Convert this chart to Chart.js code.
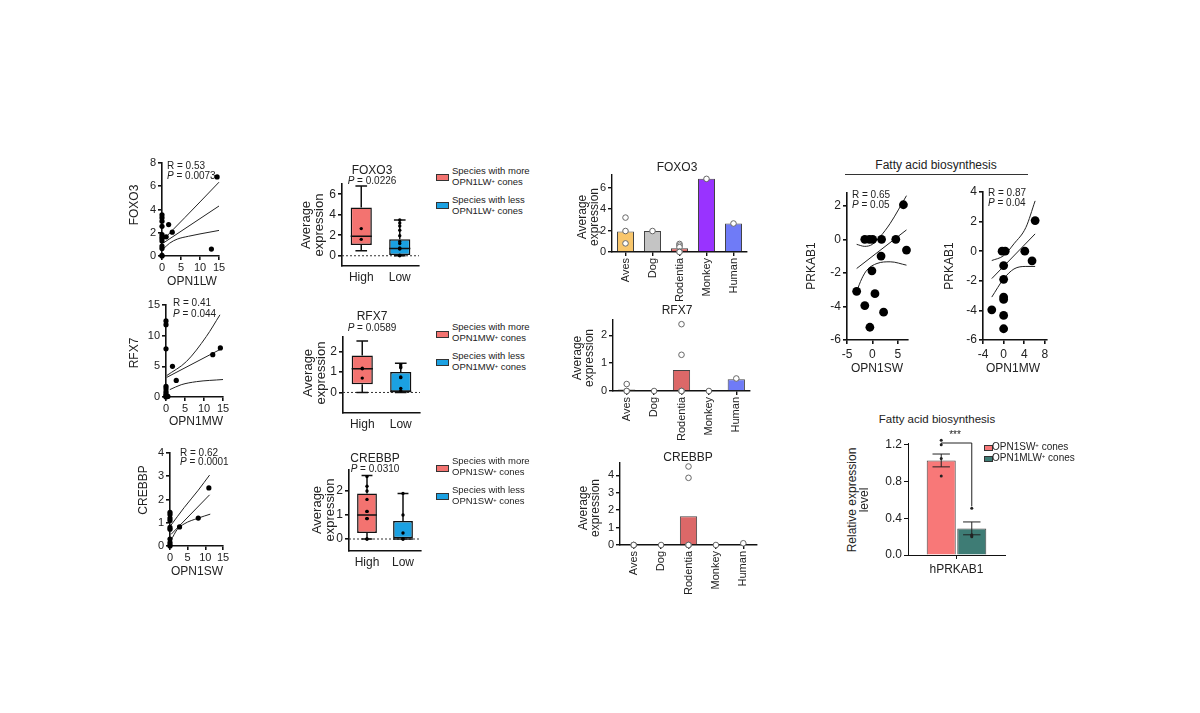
<!DOCTYPE html>
<html>
<head>
<meta charset="utf-8">
<title>Expression panels</title>
<script src="https://cdn.jsdelivr.net/npm/chart.js@4.4.1/dist/chart.umd.min.js"></script>
<style>
  body { margin: 0; background: #fff; }
  #page { position: relative; width: 1200px; height: 713px; overflow: hidden; background: #fff;
          font-family: Arial, "Liberation Sans", sans-serif; color: #222; }
  #page canvas { position: absolute; }
  .t { position: absolute; white-space: nowrap; line-height: 1; }
  .sw { position: absolute; border: 1px solid #333; box-sizing: border-box; }
  sup { font-size: 60%; vertical-align: 0.45em; line-height: 0; }
</style>
</head>
<body>
<div id="page"></div>
<script>
// ---- left column: correlation scatters ----
const lwX = [0, 0, 0, 0, 0, 0, 0, 0, 0, 0, 0, 0, 1.1, 1.75, 2.7, 13, 14.5];
const lwY = [3.55, 3.3, 3.0, 2.55, 1.85, 1.65, 1.5, 1.3, 0.85, 0.65, 0.05, 0, 1.65, 2.7, 2.05, 0.6, 6.8];
const lwFitX = [0.5, 15], lwFitY = [1.15, 4.3];
const lwUpX = [0.5, 3, 6, 10, 15], lwUpY = [1.45, 2.3, 3.3, 4.65, 6.35];
const lwLoX = [0.3, 2, 4, 7, 10, 15], lwLoY = [0.6, 1.1, 1.45, 1.7, 1.9, 2.2];

const mwX = [0, 0, 0, 0, 0, 0, 0, 0, 0, 0, 0.5, 1.7, 2.7, 12.3, 14.3];
const mwY = [12.4, 11.8, 7.85, 1.75, 1.35, 0.9, 0.55, 0.3, 0.1, 0, 0.1, 5.0, 2.7, 6.9, 8.0];
const mwFitX = [0.2, 15], mwFitY = [3.2, 8.0];
const mwUpX = [0.2, 5.4, 10.6, 14.2], mwUpY = [3.5, 5.8, 9.85, 13.4];
const mwLoX = [1, 4, 8, 15], mwLoY = [1.2, 2.0, 2.5, 2.85];

const swX = [0, 0, 0, 0, 0, 0, 0, 0, 0, 0, 2.7, 8, 11];
const swY = [1.45, 1.35, 1.2, 1.1, 0.8, 0.72, 0.3, 0.15, 0.05, 0, 0.82, 1.2, 2.5];
const swFitX = [0.3, 11.2], swFitY = [0.5, 2.2];
const swUpX = [0.3, 4, 8, 11.2], swUpY = [0.9, 1.65, 2.4, 3.05];
const swLoX = [0.3, 2, 4, 8, 11.4], swLoY = [0.25, 0.7, 0.95, 1.2, 1.37];

// ---- second column: box plots ----
const groups = ['High', 'Low'];
const foxLo = [1.05, 0], foxHi = [4.7, 1.6], foxMed = [1.9, 0.7], foxWLo = [0.5, 0], foxWHi = [6.8, 3.5];
const foxHighPts = [2.65, 1.6];
const foxLowPts = [3.5, 3.2, 2.9, 2.5, 1.95, 1.4, 1.2, 0.75, 0.7, 0.65, 0.05, 0];

const rfxLo = [0.4, 0], rfxHi = [1.8, 1.0], rfxMed = [1.15, 0.05], rfxWLo = [0, 0], rfxWHi = [2.5, 1.42];
const rfxHighPts = [1.18, 1.15, 0.7];
const rfxLowPts = [1.35, 1.25, 1.2, 0.75, 0.72, 0.2, 0.08];

const creLo = [0.25, 0], creHi = [1.9, 0.75], creMed = [1.0, 0], creWLo = [0, 0], creWHi = [2.65, 1.9];
const creHighPts = [2.6, 2.2, 2.0, 1.65, 1.15, 1.15, 0.85, 0.85, 0.85, 0, 0];
const creLowPts = [1.9, 1.0, 0.25, 0, 0];

// ---- third column: species bars ----
const species = ['Aves', 'Dog', 'Rodentia', 'Monkey', 'Human'];
const speciesColors = ['#f8c66c', '#c4c4c4', '#dc6868', '#9933ff', '#6f7bf7'];
const foxMean = [1.9, 1.95, 0.35, 6.8, 2.65];
const foxPts = [[3.2, 1.95, 0.8], [1.95], [0.75, 0.6, 0.45, 0.05, 0], [6.8], [2.65]];
const rfxMean = [0.05, 0, 0.75, 0, 0.42];
const rfxPts = [[0.25, 0, 0], [0], [2.4, 1.3, 0, 0, 0], [0], [0.45]];
const creMean = [0, 0, 1.65, 0, 0.04];
const crePts = [[0, 0, 0], [0], [4.5, 3.85, 0, 0, 0], [0], [0.1]];

// ---- right column: PRKAB1 ----
const pSwX = [-3.1, -1.5, -1.5, -0.6, 0.05, 1.8, 1.7, -0.1, 0.5, -0.5, 2.2, 4.6, 6.1, 6.7];
const pSwY = [-3.1, -3.95, 0, 0, 0, 0, -1.0, -1.88, -3.24, -5.24, -4.34, 0, 2.06, -0.64];
const pSwFitX = [-3.1, 6.7], pSwFitY = [-1.74, 0.56];
const pSwUpX = [-3.1, -1.5, 0, 1.5, 3.5, 6.7], pSwUpY = [-0.3, -0.42, -0.3, 0.15, 0.95, 2.6];
const pSwLoX = [-3.1, -2.1, -1.1, 0.9, 3.5, 6.7], pSwLoY = [-3.1, -2.35, -1.84, -1.44, -1.34, -1.54];

const pMwX = [-2.3, -0.3, 0.3, 0, 0, 0, 0, 0, 0, 4.1, 5.5, 6.1];
const pMwY = [-3.96, 0, 0, -0.97, -1.9, -3.1, -3.26, -4.34, -5.24, 0, -0.65, 2.07];
const pMwFitX = [-2.3, 6.1], pMwFitY = [-1.85, 1.17];
const pMwUpX = [-2.3, 0, 2, 4.3, 6.1], pMwUpY = [-0.63, -0.3, 0.5, 1.6, 3.4];
const pMwLoX = [-2.3, 0, 2, 4.3, 6.1], pMwLoY = [-3.1, -1.87, -1.2, -1.03, -1.03];

const eMean = [1.03, 0.29], eErr = [0.07, 0.07];
const eSwPts = [1.25, 1.2, 1.05, 0.86], eMlwPts = [0.51, 0.22, 0.21, 0.2];
const eBracket = [1.22, 1.19, 0.53];

Chart.defaults.font.family = 'Arial, "Liberation Sans", sans-serif';
Chart.defaults.color = '#222';
Chart.defaults.animation = false;
Chart.defaults.plugins.legend.display = false;
Chart.defaults.plugins.tooltip.enabled = false;

const page = document.getElementById('page');
const PAD = {left: 4, top: 12, right: 16, bottom: 4};

// put a chart so that its plot area lands on l,t,r,b
function place(l, t, r, b, yW, xH, config) {
  const c = document.createElement('canvas');
  const w = Math.round(r - l + yW + PAD.left + PAD.right);
  const h = Math.round(b - t + xH + PAD.top + PAD.bottom);
  c.width = w; c.height = h;
  c.style.width = w + 'px'; c.style.height = h + 'px';
  c.style.left = (l - yW - PAD.left) + 'px';
  c.style.top = (t - PAD.top) + 'px';
  page.appendChild(c);
  const o = config.options;
  o.responsive = false;
  o.maintainAspectRatio = false;
  o.layout = {padding: PAD};
  o.scales.x.afterFit = s => { s.height = xH; };
  o.scales.y.afterFit = s => { s.width = yW; };
  return new Chart(c, config);
}

function txt(html, x, y, size, opt) {
  opt = opt || {};
  const el = document.createElement('div');
  el.className = 't';
  el.innerHTML = html;
  el.style.fontSize = size + 'px';
  el.style.left = x + 'px';
  el.style.top = y + 'px';
  let tf = opt.left ? 'translate(0,-50%)' : 'translate(-50%,-50%)';
  if (opt.rot) tf += ' rotate(-90deg)';
  el.style.transform = tf;
  page.appendChild(el);
}

function swatch(x, y, w, h, color) {
  const el = document.createElement('div');
  el.className = 'sw';
  Object.assign(el.style, {left: x + 'px', top: y + 'px', width: w + 'px', height: h + 'px', background: color});
  page.appendChild(el);
}

function linAxis(min, max, ticks, size, opt) {
  opt = opt || {};
  const bw = opt.bw || 1.6;
  return {
    type: 'linear', min, max,
    afterBuildTicks: s => { s.ticks = ticks.map(v => ({value: v})); },
    border: {display: true, color: '#111', width: bw},
    grid: {drawOnChartArea: false, drawTicks: true, tickLength: 4, color: '#111', lineWidth: bw},
    ticks: {color: '#222', font: {size}, padding: opt.pad || 2, autoSkip: false,
            minRotation: 0, maxRotation: 0, callback: opt.fmt || (v => String(v))}
  };
}

function catAxis(size, opt) {
  opt = opt || {};
  const bw = opt.bw || 1.6;
  return {
    type: 'category', offset: true,
    border: {display: true, color: '#111', width: bw},
    grid: {drawOnChartArea: false, drawTicks: opt.ticks !== false, tickLength: 4, color: '#111', lineWidth: bw, offset: false},
    ticks: {color: '#222', font: {size}, padding: opt.pad || 2, autoSkip: false,
            minRotation: opt.rot || 0, maxRotation: opt.rot || 0}
  };
}

const pairs = (xs, ys) => xs.map((x, i) => ({x, y: ys[i]}));

function scatterPanel(area, yW, xH, xAx, yAx, px, py, curves, r) {
  const datasets = curves.map(([xs, ys]) => ({
    data: pairs(xs, ys), showLine: true, pointRadius: 0, borderColor: '#222', borderWidth: 1,
    cubicInterpolationMode: 'monotone', clip: false, order: 2
  }));
  datasets.push({data: pairs(px, py), pointRadius: r, pointBackgroundColor: '#000',
                 pointBorderWidth: 0, clip: false, order: 1});
  return place(area[0], area[1], area[2], area[3], yW, xH,
    {type: 'scatter', data: {datasets}, options: {scales: {x: xAx, y: yAx}}});
}

function boxPanel(area, yAx, lo, hi, med, wlo, whi, highPts, lowPts) {
  const pts = highPts.map(v => ({x: 'High', y: v})).concat(lowPts.map(v => ({x: 'Low', y: v})));
  const whisk = {
    id: 'whisk',
    beforeDatasetsDraw(chart) {
      const {ctx, chartArea, scales: {y}} = chart;
      const y0 = y.getPixelForValue(0);
      ctx.save();
      ctx.setLineDash([2, 2]); ctx.strokeStyle = '#333'; ctx.lineWidth = 1;
      ctx.beginPath(); ctx.moveTo(chartArea.left, y0); ctx.lineTo(chartArea.right, y0); ctx.stroke();
      ctx.restore();
    },
    afterDatasetDraw(chart, args) {
      if (args.index !== 0) return;
      const {ctx, scales: {y}} = chart;
      ctx.save();
      ctx.strokeStyle = '#111'; ctx.lineWidth = 1.5;
      chart.getDatasetMeta(0).data.forEach((bar, i) => {
        const cx = bar.x, hw = bar.width / 2, cap = hw * 0.55;
        const pLo = y.getPixelForValue(wlo[i]), pHi = y.getPixelForValue(whi[i]);
        ctx.beginPath();
        ctx.moveTo(cx, pLo); ctx.lineTo(cx, y.getPixelForValue(lo[i]));
        ctx.moveTo(cx, y.getPixelForValue(hi[i])); ctx.lineTo(cx, pHi);
        ctx.moveTo(cx - cap, pLo); ctx.lineTo(cx + cap, pLo);
        ctx.moveTo(cx - cap, pHi); ctx.lineTo(cx + cap, pHi);
        const pm = y.getPixelForValue(med[i]);
        ctx.moveTo(cx - hw, pm); ctx.lineTo(cx + hw, pm);
        ctx.stroke();
      });
      ctx.restore();
    }
  };
  return place(area[0], area[1], area[2], area[3], 22, 18, {
    type: 'bar',
    data: {labels: groups, datasets: [
      {data: lo.map((v, i) => [v, hi[i]]), backgroundColor: ['#f37370', '#1ba1e2'], borderColor: '#111',
       borderWidth: 1.5, borderSkipped: false, barPercentage: 0.55, categoryPercentage: 1, order: 2},
      {type: 'line', data: pts, showLine: false, pointRadius: 1.7, pointBackgroundColor: '#000',
       pointBorderWidth: 0, clip: false, order: 1}
    ]},
    options: {scales: {x: catAxis(12, {ticks: false, pad: 4}), y: yAx}},
    plugins: [whisk]
  });
}

function speciesPanel(area, yAx, means, pts) {
  const dots = [];
  pts.forEach((arr, i) => arr.forEach(v => dots.push({x: species[i], y: v})));
  return place(area[0], area[1], area[2], area[3], 20, 50, {
    type: 'bar',
    data: {labels: species, datasets: [
      {data: means, backgroundColor: speciesColors, borderColor: '#444', borderWidth: 1,
       barPercentage: 0.63, categoryPercentage: 1, order: 2},
      {type: 'line', data: dots, showLine: false, pointRadius: 2.8, pointBackgroundColor: '#fff',
       pointBorderColor: '#666', pointBorderWidth: 1, clip: false, order: 1}
    ]},
    options: {scales: {x: catAxis(11, {rot: 90, bw: 1.4}), y: yAx}}
  });
}

// ---- column 1 ----
scatterPanel([162.3, 163.3, 219.3, 256.7], 22, 16,
  linAxis(0, 15, [0, 5, 10, 15], 11, {pad: 1}), linAxis(0, 8, [0, 2, 4, 6, 8], 11),
  lwX, lwY, [[lwFitX, lwFitY], [lwUpX, lwUpY], [lwLoX, lwLoY]], 2.6);
scatterPanel([166, 305, 223.3, 397.3], 22, 16,
  linAxis(0, 15, [0, 5, 10, 15], 11, {pad: 1}), linAxis(0, 15, [0, 5, 10, 15], 11),
  mwX, mwY, [[mwFitX, mwFitY], [mwUpX, mwUpY], [mwLoX, mwLoY]], 2.6);
scatterPanel([170, 452.7, 223, 546], 22, 16,
  linAxis(0, 15, [0, 5, 10, 15], 11, {pad: 1}), linAxis(0, 4, [0, 1, 2, 3, 4], 11),
  swX, swY, [[swFitX, swFitY], [swUpX, swUpY], [swLoX, swLoY]], 2.6);

txt('FOXO3', 134, 205, 12, {rot: true});
txt('R = 0.53', 167, 166, 10, {left: true});
txt('<i>P</i> = 0.0073', 167, 176, 10, {left: true});
txt('OPN1LW', 192, 281, 12);
txt('RFX7', 134, 353, 12, {rot: true});
txt('R = 0.41', 173, 303, 10, {left: true});
txt('<i>P</i> = 0.044', 173, 314, 10, {left: true});
txt('OPN1MW', 196, 421, 12);
txt('CREBBP', 143, 490, 12, {rot: true});
txt('R = 0.62', 180, 453, 10, {left: true});
txt('<i>P</i> = 0.0001', 180, 462, 10, {left: true});
txt('OPN1SW', 197, 571, 12);

// ---- column 2 ----
boxPanel([341.7, 184.3, 418.3, 266.7], linAxis(-1, 7, [0, 2, 4, 6], 12),
  foxLo, foxHi, foxMed, foxWLo, foxWHi, foxHighPts, foxLowPts);
boxPanel([343.3, 337, 420, 413], linAxis(-1, 2.7, [0, 1, 2], 12),
  rfxLo, rfxHi, rfxMed, rfxWLo, rfxWHi, rfxHighPts, rfxLowPts);
boxPanel([349.3, 470, 421, 551], linAxis(-0.5, 2.875, [0, 1, 2], 12),
  creLo, creHi, creMed, creWLo, creWHi, creHighPts, creLowPts);

txt('FOXO3', 372, 170, 12);
txt('<i>P</i> = 0.0226', 372, 181, 10);
txt('Average', 305, 225, 13, {rot: true});
txt('expression', 318, 225, 13, {rot: true});
txt('RFX7', 372, 316, 12);
txt('<i>P</i> = 0.0589', 372, 328, 10);
txt('Average', 307, 373, 13, {rot: true});
txt('expression', 320, 373, 13, {rot: true});
txt('CREBBP', 375, 457.7, 12);
txt('<i>P</i> = 0.0310', 375, 469, 10);
txt('Average', 316, 510, 13, {rot: true});
txt('expression', 329, 510, 13, {rot: true});

const legendRows = [
  [173.5, 171, 'LW'], [331, 327, 'MW'], [465, 461, 'SW']
];
legendRows.forEach(([sy, ty, kind]) => {
  swatch(436, sy, 13, 7, '#f37370');
  txt('Species with more', 452, ty, 9.5, {left: true});
  txt('OPN1' + kind + '<sup>+</sup> cones', 452, ty + 11, 9.5, {left: true});
  swatch(436, sy + 28, 13, 7, '#1ba1e2');
  txt('Species with less', 452, ty + 29, 9.5, {left: true});
  txt('OPN1' + kind + '<sup>+</sup> cones', 452, ty + 40, 9.5, {left: true});
});

// ---- column 3 ----
speciesPanel([611.7, 175, 746.7, 252.3], linAxis(0, 7.16, [0, 2, 4, 6], 11, {bw: 1.4}), foxMean, foxPts);
speciesPanel([613.3, 320, 750, 390.7], linAxis(0, 2.55, [0, 1, 2], 11, {bw: 1.4}), rfxMean, rfxPts);
speciesPanel([620, 463.3, 757, 545], linAxis(0, 4.7, [0, 1, 2, 3, 4], 11, {bw: 1.4}), creMean, crePts);

txt('FOXO3', 677, 167, 12);
txt('Average', 582, 217, 12, {rot: true});
txt('expression', 594, 217, 12, {rot: true});
txt('RFX7', 677, 310, 12);
txt('Average', 577, 358, 12, {rot: true});
txt('expression', 589, 358, 12, {rot: true});
txt('CREBBP', 688, 457, 12);
txt('Average', 583, 508, 12, {rot: true});
txt('expression', 595, 508, 12, {rot: true});

// ---- column 4: PRKAB1 correlations ----
scatterPanel([846.7, 193.3, 907.3, 340], 22, 18,
  linAxis(-5, 7, [-5, 0, 5], 12, {pad: 3}), linAxis(-6, 2.76, [-6, -4, -2, 0, 2], 12),
  pSwX, pSwY, [[pSwFitX, pSwFitY], [pSwUpX, pSwUpY], [pSwLoX, pSwLoY]], 4.4);
scatterPanel([983.3, 191.7, 1047, 340], 22, 18,
  linAxis(-4, 8.4, [-4, 0, 4, 8], 12, {pad: 3}), linAxis(-6, 4, [-6, -4, -2, 0, 2, 4], 12),
  pMwX, pMwY, [[pMwFitX, pMwFitY], [pMwUpX, pMwUpY], [pMwLoX, pMwLoY]], 4.4);

txt('Fatty acid biosynthesis', 936, 165, 12);
const rule = document.createElement('div');
Object.assign(rule.style, {position: 'absolute', left: '845px', top: '173.5px', width: '183px', height: '0', borderTop: '1px solid #333'});
page.appendChild(rule);
txt('R = 0.65', 852, 195, 10, {left: true});
txt('<i>P</i> = 0.05', 852, 205, 10, {left: true});
txt('PRKAB1', 811, 266, 12, {rot: true});
txt('OPN1SW', 877, 368, 12);
txt('R = 0.87', 988, 193, 10, {left: true});
txt('<i>P</i> = 0.04', 988, 203, 10, {left: true});
txt('PRKAB1', 949, 266, 12, {rot: true});
txt('OPN1MW', 1013, 368, 12);

// ---- column 4: qPCR bar ----
const errPlugin = {
  id: 'err',
  afterDatasetsDraw(chart) {
    const {ctx, scales: {y}} = chart;
    const ptsAll = [eSwPts, eMlwPts];
    ctx.save();
    ctx.strokeStyle = '#222'; ctx.fillStyle = '#222'; ctx.lineWidth = 1;
    [0, 1].forEach(k => {
      const bar = chart.getDatasetMeta(k).data[0];
      const cx = bar.x, cap = bar.width * 0.3;
      const a = y.getPixelForValue(eMean[k] - eErr[k]), b = y.getPixelForValue(eMean[k] + eErr[k]);
      ctx.beginPath();
      ctx.moveTo(cx, a); ctx.lineTo(cx, b);
      ctx.moveTo(cx - cap, a); ctx.lineTo(cx + cap, a);
      ctx.moveTo(cx - cap, b); ctx.lineTo(cx + cap, b);
      ctx.stroke();
      ptsAll[k].forEach(v => {
        ctx.beginPath(); ctx.arc(cx, y.getPixelForValue(v), 1.5, 0, Math.PI * 2); ctx.fill();
      });
    });
    const x0 = chart.getDatasetMeta(0).data[0].x, x1 = chart.getDatasetMeta(1).data[0].x;
    ctx.beginPath();
    ctx.moveTo(x0, y.getPixelForValue(eBracket[1]));
    ctx.lineTo(x0, y.getPixelForValue(eBracket[0]));
    ctx.lineTo(x1, y.getPixelForValue(eBracket[0]));
    ctx.lineTo(x1, y.getPixelForValue(eBracket[2]));
    ctx.stroke();
    ctx.restore();
  }
};

place(908.3, 442.7, 1005, 555, 26, 20, {
  type: 'bar',
  data: {labels: ['hPRKAB1'], datasets: [
    {data: [eMean[0]], backgroundColor: '#f87878', borderColor: '#444', borderWidth: 1,
     barPercentage: 0.95, categoryPercentage: 0.63},
    {data: [eMean[1]], backgroundColor: '#3e7c75', borderColor: '#444', borderWidth: 1,
     barPercentage: 0.95, categoryPercentage: 0.63}
  ]},
  options: {scales: {
    x: catAxis(12, {bw: 1, pad: 3}),
    y: linAxis(0, 1.22, [0, 0.4, 0.8, 1.2], 12, {bw: 1, fmt: v => v.toFixed(1)})
  }},
  plugins: [errPlugin]
});

txt('Fatty acid biosynthesis', 937, 419.5, 11.5);
txt('***', 955, 435, 10);
txt('Relative expression', 852, 500, 12, {rot: true});
txt('level', 864, 500, 12, {rot: true});
swatch(984, 445, 9, 6, '#f87878');
txt('OPN1SW<sup>+</sup> cones', 992, 447, 10, {left: true});
swatch(984, 456, 9, 6, '#3e7c75');
txt('OPN1MLW<sup>+</sup> cones', 992, 458, 10, {left: true});
</script>
</body>
</html>
